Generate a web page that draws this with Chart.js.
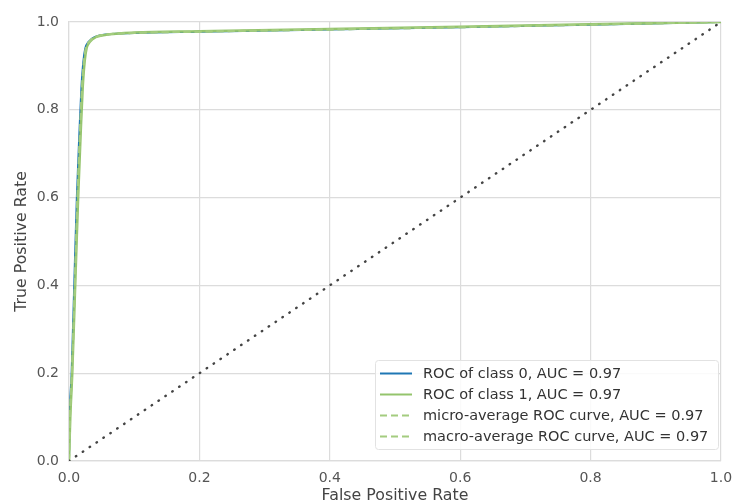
<!DOCTYPE html>
<html>
<head>
<meta charset="utf-8">
<script src="https://cdn.jsdelivr.net/npm/chart.js@4/dist/chart.umd.min.js"></script>
<style>
  html, body { margin: 0; padding: 0; background: #fff; }
  #rocChart { display: block; }
</style>
</head>
<body>
<canvas id="rocChart" width="732" height="504"></canvas>
<script>
// ROC curves
const fprClass0 = [0, 0.001, 0.004, 0.008, 0.012, 0.016, 0.019, 0.022, 0.025, 0.03, 0.04, 0.06, 0.1, 0.2, 0.4, 0.6, 0.8, 1.0];
const tprClass0 = [0, 0.1, 0.2, 0.4, 0.6, 0.75, 0.85, 0.91, 0.94, 0.955, 0.966, 0.972, 0.975, 0.978, 0.983, 0.988, 0.994, 1.0];
const fprClass1 = [0, 0.002, 0.005, 0.0095, 0.014, 0.018, 0.021, 0.024, 0.027, 0.032, 0.042, 0.062, 0.1, 0.2, 0.4, 0.6, 0.8, 1.0];
const tprClass1 = [0, 0.1, 0.2, 0.4, 0.6, 0.75, 0.85, 0.91, 0.94, 0.955, 0.966, 0.972, 0.976, 0.979, 0.984, 0.989, 0.995, 1.0];
const fprMicro = [0, 0.0015, 0.0045, 0.009, 0.013, 0.017, 0.02, 0.023, 0.026, 0.031, 0.041, 0.061, 0.1, 0.2, 0.4, 0.6, 0.8, 1.0];
const tprMicro = [0, 0.1, 0.2, 0.4, 0.6, 0.75, 0.85, 0.91, 0.94, 0.955, 0.966, 0.972, 0.975, 0.978, 0.983, 0.988, 0.994, 1.0];
const fprMacro = [0, 0.0015, 0.0045, 0.009, 0.013, 0.017, 0.02, 0.023, 0.026, 0.031, 0.041, 0.061, 0.1, 0.2, 0.4, 0.6, 0.8, 1.0];
const tprMacro = [0, 0.1, 0.2, 0.4, 0.6, 0.75, 0.85, 0.91, 0.94, 0.955, 0.966, 0.972, 0.975, 0.978, 0.983, 0.988, 0.994, 1.0];
const diagX = [0, 1];
const diagY = [0, 1];

const legendLabels = [
  'ROC of class 0, AUC = 0.97',
  'ROC of class 1, AUC = 0.97',
  'micro-average ROC curve, AUC = 0.97',
  'macro-average ROC curve, AUC = 0.97'
];

const blue = '#1f77b4';
const green = '#94c46c';
const greenDash = '#a3cc7f';

function pts(xs, ys) {
  return xs.map((x, i) => ({ x: x, y: ys[i] }));
}

const FONT = 'DejaVu Sans';

// legend drawn inside the plot, lower right
const legendBox = {
  id: 'legendBox',
  afterDraw(chart) {
    const ctx = chart.ctx;
    const x0 = 375.5, y0 = 360.5, w = 343, h = 89;
    ctx.save();
    ctx.fillStyle = 'rgba(255,255,255,0.85)';
    ctx.strokeStyle = '#e2e2e2';
    ctx.lineWidth = 1;
    ctx.beginPath();
    ctx.roundRect(x0, y0, w, h, 3);
    ctx.fill();
    ctx.stroke();

    const rows = [373.5, 394.5, 415.5, 436.5];
    const styles = [
      { color: blue, dash: [] },
      { color: green, dash: [] },
      { color: greenDash, dash: [7, 4] },
      { color: greenDash, dash: [7, 4] }
    ];
    ctx.font = '14.5px "' + FONT + '"';
    ctx.textBaseline = 'middle';
    ctx.textAlign = 'left';
    rows.forEach((y, i) => {
      ctx.strokeStyle = styles[i].color;
      ctx.lineWidth = 2;
      ctx.setLineDash(styles[i].dash);
      ctx.beginPath();
      ctx.moveTo(380, y);
      ctx.lineTo(412, y);
      ctx.stroke();
      ctx.setLineDash([]);
      ctx.fillStyle = '#333';
      ctx.fillText(legendLabels[i], 423, y + 1);
    });
    ctx.restore();
  }
};

const myChart = document.getElementById('rocChart');

let rocChart = new Chart(myChart, {
  type: 'scatter',
  data: {
    datasets: [
      {
        label: legendLabels[0],
        data: pts(fprClass0, tprClass0),
        borderColor: blue,
        borderWidth: 2,
        order: 4
      },
      {
        label: legendLabels[1],
        data: pts(fprClass1, tprClass1),
        borderColor: green,
        borderWidth: 2.5,
        order: 3
      },
      {
        label: legendLabels[2],
        data: pts(fprMicro, tprMicro),
        borderColor: greenDash,
        borderWidth: 2,
        borderDash: [7, 4],
        order: 2
      },
      {
        label: legendLabels[3],
        data: pts(fprMacro, tprMacro),
        borderColor: greenDash,
        borderWidth: 2,
        borderDash: [7, 4],
        order: 1
      },
      {
        label: 'diagonal',
        data: pts(diagX, diagY),
        borderColor: '#444',
        borderWidth: 2.4,
        borderDash: [0.5, 7.8],
        borderCapStyle: 'round',
        order: 0
      }
    ]
  },
  options: {
    responsive: false,
    animation: false,
    showLine: true,
    elements: {
      point: { radius: 0, hoverRadius: 0 },
      line: { tension: 0.4, cubicInterpolationMode: 'monotone', fill: false }
    },
    layout: { padding: { top: 22, right: 11, left: 0, bottom: 0 } },
    plugins: {
      legend: { display: false },
      tooltip: { enabled: false }
    },
    scales: {
      x: {
        type: 'linear',
        min: 0,
        max: 1,
        afterFit: s => { s.height = 43; s.paddingRight = 0; s.paddingLeft = 0; },
        grid: { color: '#dcdcdc', lineWidth: 1.2, drawTicks: false },
        border: { color: '#dcdcdc', width: 1.2 },
        ticks: {
          stepSize: 0.2,
          padding: 9,
          color: '#555',
          font: { family: FONT, size: 14 },
          callback: v => v.toFixed(1)
        },
        title: {
          display: true,
          text: 'False Positive Rate',
          color: '#444',
          font: { family: FONT, size: 15.8, lineHeight: 1 },
          padding: { top: 0, bottom: 0 }
        }
      },
      y: {
        type: 'linear',
        min: 0,
        max: 1,
        afterFit: s => { s.width = 69; s.paddingTop = 0; s.paddingBottom = 0; },
        grid: { color: '#dcdcdc', lineWidth: 1.2, drawTicks: false },
        border: { color: '#dcdcdc', width: 1.2 },
        ticks: {
          stepSize: 0.2,
          padding: 10,
          color: '#555',
          font: { family: FONT, size: 14 },
          callback: v => v.toFixed(1)
        },
        title: {
          display: true,
          text: 'True Positive Rate',
          color: '#444',
          font: { family: FONT, size: 15.8, lineHeight: 1 },
          padding: { top: 14, bottom: 0 }
        }
      }
    }
  },
  plugins: [legendBox]
});
</script>
</body>
</html>
